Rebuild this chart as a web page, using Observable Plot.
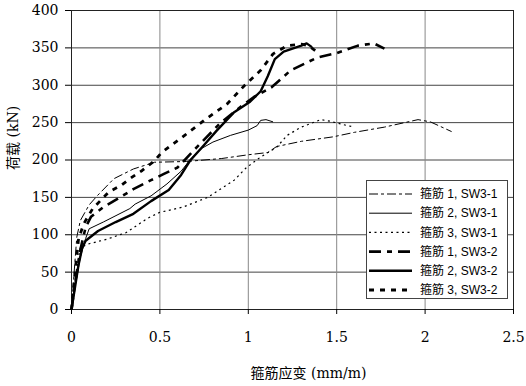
<!DOCTYPE html>
<html>
<head>
<meta charset="utf-8">
<script src="https://cdn.jsdelivr.net/npm/d3@7"></script>
<script src="https://cdn.jsdelivr.net/npm/@observablehq/plot@0.6"></script>
<style>
  html, body { margin: 0; padding: 0; background: #fff; }
</style>
</head>
<body>
<div id="chart"></div>
<script>
// ---- data (strain mm/m, load kN) ----
const xTicks = [0, 0.5, 1, 1.5, 2, 2.5];
const yTicks = [0, 50, 100, 150, 200, 250, 300, 350, 400];
const xLabel = "箍筋应变 (mm/m)";
const yLabel = "荷载 (kN)";
const seriesNames = ["箍筋 1, SW3-1", "箍筋 2, SW3-1", "箍筋 3, SW3-1", "箍筋 1, SW3-2", "箍筋 2, SW3-2", "箍筋 3, SW3-2"];

const s1_SW31 = [[0,0],[0.015,50],[0.03,97],[0.05,119],[0.1,140],[0.145,152],[0.24,175],[0.35,188],[0.47,197],[0.65,198],[0.85,202],[1.0,207],[1.11,210],[1.16,218],[1.3,225],[1.48,231],[1.6,237],[1.77,244],[1.96,254],[2.03,251],[2.15,238]];
const s2_SW31 = [[0,0],[0.02,30],[0.05,70],[0.08,95],[0.1,108],[0.18,117],[0.33,135],[0.36,141],[0.45,152],[0.54,168],[0.62,185],[0.68,203],[0.74,216],[0.8,224],[0.9,233],[1.0,240],[1.05,246],[1.07,253],[1.1,254],[1.14,251]];
const s3_SW31 = [[0,0],[0.02,35],[0.04,70],[0.05,83],[0.1,88],[0.2,94],[0.31,103],[0.43,122],[0.5,130],[0.63,137],[0.77,150],[0.92,173],[0.99,190],[1.07,204],[1.16,217],[1.22,233],[1.3,244],[1.41,254],[1.46,252],[1.56,246],[1.6,244]];
const s1_SW32 = [[0,0],[0.02,35],[0.05,80],[0.08,110],[0.11,124],[0.18,137],[0.26,148],[0.35,161],[0.45,173],[0.52,181],[0.6,190],[0.7,215],[0.84,249],[0.95,270],[1.03,284],[1.13,297],[1.24,320],[1.39,337],[1.5,343],[1.62,353],[1.71,356],[1.77,349]];
const s2_SW32 = [[0,0],[0.02,30],[0.04,60],[0.06,82],[0.08,92],[0.15,105],[0.25,117],[0.35,128],[0.45,145],[0.55,160],[0.62,180],[0.67,199],[0.75,220],[0.82,239],[0.92,264],[1.01,278],[1.07,292],[1.11,312],[1.15,335],[1.2,345],[1.3,353],[1.33,356],[1.36,351]];
const s3_SW32 = [[0,0],[0.02,50],[0.04,95],[0.07,115],[0.12,135],[0.21,157],[0.28,166],[0.33,175],[0.4,186],[0.47,199],[0.51,210],[0.64,233],[0.75,253],[0.88,275],[0.98,300],[1.07,320],[1.14,342],[1.22,353],[1.3,355],[1.34,353],[1.38,346]];

const seriesData = [s1_SW31, s2_SW31, s3_SW31, s1_SW32, s2_SW32, s3_SW32];
// styles
const seriesStyles = [
  {w: 1,   dash: "9,3,3,3"},
  {w: 1,   dash: null},
  {w: 1.2, dash: "2,3.5"},
  {w: 2.6, dash: "12,6,5,6"},
  {w: 2.4, dash: null},
  {w: 2.8, dash: "5,6"}
];

const lineMarks = seriesData.map((d, i) => Plot.line(d, {
  x: p => p[0], y: p => p[1],
  stroke: "#000",
  strokeWidth: seriesStyles[i].w,
  strokeDasharray: seriesStyles[i].dash || undefined,
  strokeLinejoin: "round",
  strokeLinecap: "butt"
}));

const chart = Plot.plot({
  width: 526,
  height: 386,
  marginLeft: 71,
  marginRight: 13,
  marginTop: 10,
  marginBottom: 77,
  style: {fontSize: "13px", background: "#fff", color: "#000"},
  x: {domain: [0, 2.5]},
  y: {domain: [0, 400]},
  marks: [
    Plot.gridY(yTicks, {stroke: "#444", strokeOpacity: 1, strokeWidth: 1}),
    Plot.gridX(xTicks, {stroke: "#888", strokeOpacity: 1, strokeWidth: 1}),
    Plot.frame({stroke: "#222", strokeWidth: 1}),
    ...lineMarks,
    Plot.axisX(xTicks, {tickSize: 5, tickPadding: 18, label: null, tickFormat: d => String(d), fontSize: 14}),
    Plot.axisY(yTicks, {tickSize: 6, tickPadding: 7, label: null, tickFormat: d => String(d), fontSize: 14}),
    Plot.text([xLabel], {frameAnchor: "bottom", dy: 68, dx: 16, fontSize: 14}),
    Plot.text([yLabel], {frameAnchor: "left", dx: -58, dy: 10, rotate: -90, fontSize: 14})
  ]
});
document.getElementById("chart").appendChild(chart);

// serif for axis texts (set directly on each text element)
d3.select(chart).selectAll("text").each(function() {
  this.style.setProperty("font-family", "\"DejaVu Serif\", \"Liberation Serif\", \"Noto Sans CJK SC\"", "important");
});

// ---- legend ----
const svg = d3.select(chart);
const lg = svg.append("g").attr("class", "legend");
const box = {x: 366, y: 180, w: 141, h: 118};
lg.append("rect").attr("x", box.x + 0.5).attr("y", box.y + 0.5).attr("width", box.w).attr("height", box.h)
  .attr("fill", "#fff").attr("stroke", "#444").attr("stroke-width", 1);
seriesNames.forEach((name, i) => {
  const cy = box.y + 14 + i * 19.2;
  lg.append("line").attr("x1", box.x + 3).attr("x2", box.x + 46).attr("y1", cy).attr("y2", cy)
    .attr("stroke", "#000").attr("stroke-width", seriesStyles[i].w)
    .attr("stroke-dasharray", seriesStyles[i].dash);
  lg.append("text").attr("x", box.x + 54).attr("y", cy).attr("dy", "0.35em")
    .attr("text-anchor", "start")
    .style("font-family", "\"Liberation Sans\", \"Noto Sans CJK SC\"")
    .attr("font-size", 12).attr("fill", "#000").text(name);
});
</script>
</body>
</html>
